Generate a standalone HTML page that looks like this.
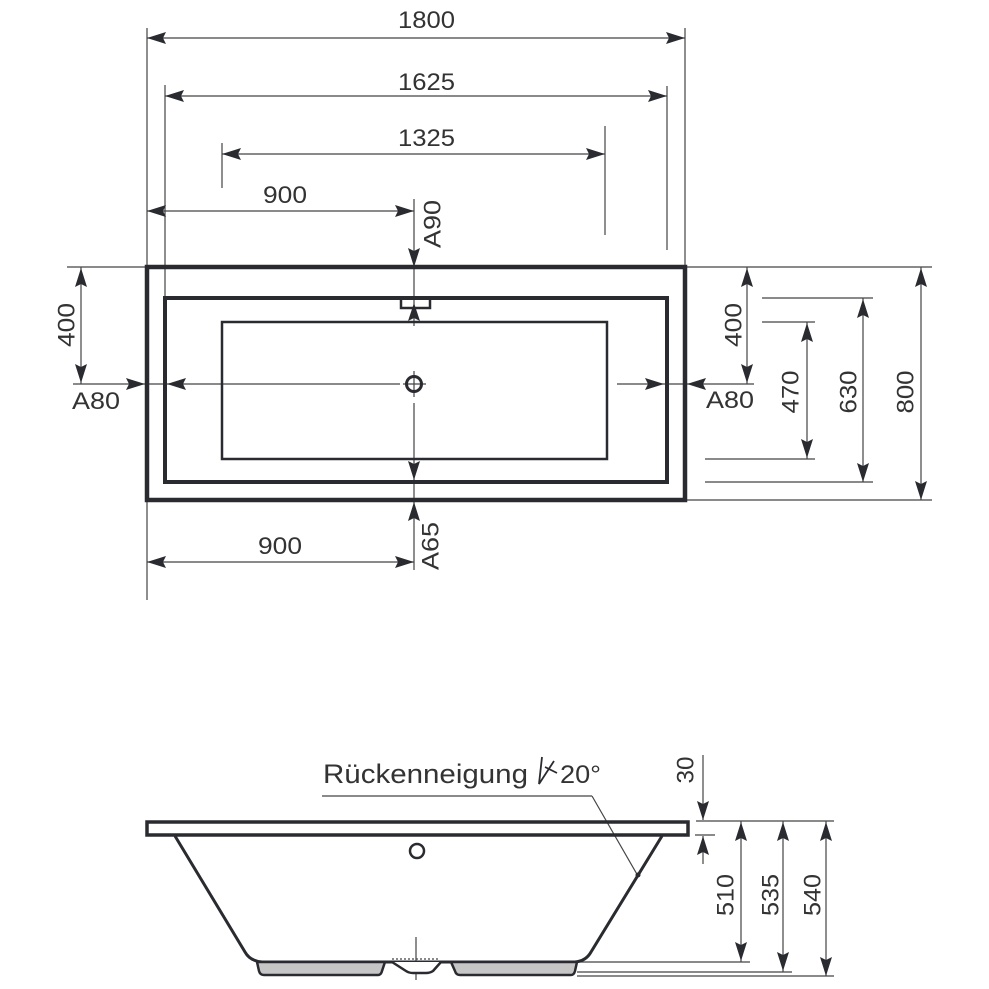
<!DOCTYPE html>
<html><head><meta charset="utf-8"><style>
html,body{margin:0;padding:0;background:#fff;}
svg{display:block;}
text{font-family:"Liberation Sans",sans-serif;fill:#333;}
</style></head><body>
<svg width="989" height="989" viewBox="0 0 989 989" xmlns="http://www.w3.org/2000/svg">
<g stroke="#444" stroke-width="1.2" fill="none">
<!-- top plan extension lines -->
<line x1="147" y1="28" x2="147" y2="600"/>
<line x1="685" y1="28" x2="685" y2="267"/>
<line x1="165" y1="85" x2="165" y2="298"/>
<line x1="667" y1="86" x2="667" y2="250"/>
<line x1="222" y1="143" x2="222" y2="188"/>
<line x1="605" y1="126" x2="605" y2="235"/>
<line x1="414" y1="199" x2="414" y2="326"/>
<!-- dim lines -->
<line x1="147" y1="38" x2="685" y2="38"/>
<line x1="165" y1="96" x2="667" y2="96"/>
<line x1="222" y1="154" x2="605" y2="154"/>
<line x1="147" y1="211" x2="414" y2="211"/>
<!-- center lines -->
<line x1="73" y1="384" x2="400" y2="384"/>
<line x1="403" y1="384" x2="426" y2="384"/>
<line x1="414" y1="371" x2="414" y2="397"/>
<line x1="414" y1="403" x2="414" y2="570"/>
<line x1="617" y1="384" x2="754" y2="384"/>
<!-- left 400 -->
<line x1="67" y1="267" x2="147" y2="267"/>
<line x1="81" y1="267" x2="81" y2="384"/>
<!-- bottom 900 -->
<line x1="147" y1="562" x2="414" y2="562"/>
<!-- right side ext -->
<line x1="685" y1="267" x2="932" y2="267"/>
<line x1="685" y1="500" x2="932" y2="500"/>
<line x1="762" y1="298" x2="873" y2="298"/>
<line x1="705" y1="482" x2="873" y2="482"/>
<line x1="762" y1="322" x2="815" y2="322"/>
<line x1="705" y1="459" x2="815" y2="459"/>
<line x1="747" y1="267" x2="747" y2="384"/>
<line x1="807" y1="322" x2="807" y2="459"/>
<line x1="863" y1="298" x2="863" y2="482"/>
<line x1="921" y1="267" x2="921" y2="500"/>
<!-- side view dims -->
<line x1="703" y1="755" x2="703" y2="820"/>
<line x1="703" y1="836" x2="703" y2="864"/>
<line x1="695" y1="835" x2="715" y2="835"/>
<line x1="696" y1="821" x2="834" y2="821"/>
<line x1="741" y1="821" x2="741" y2="962"/>
<line x1="783" y1="821" x2="783" y2="972"/>
<line x1="826" y1="821" x2="826" y2="976"/>
<line x1="577" y1="962" x2="750" y2="962"/>
<line x1="577" y1="972" x2="792" y2="972"/>
<line x1="577" y1="976" x2="834" y2="976"/>
<line x1="416" y1="937" x2="416" y2="980"/>
<line x1="392" y1="959" x2="440" y2="959" stroke-dasharray="2,2"/>
<!-- leader -->
<line x1="322" y1="796" x2="592" y2="796"/>
<line x1="592" y1="796" x2="638" y2="876"/>
</g>

<!-- plan rectangles -->
<g stroke="#2a2b30" fill="none">
<rect x="147" y="267" width="538" height="233" stroke-width="4.5"/>
<rect x="165" y="298" width="502" height="184" stroke-width="4"/>
<rect x="222" y="322" width="385" height="137" stroke-width="2.5"/>
<path d="M401,298 V308 H430 V298" stroke-width="2.5"/>
<circle cx="414" cy="384" r="7.5" stroke-width="3"/>
<!-- side view -->
<rect x="147" y="822" width="541" height="13" stroke-width="3.5"/>
<path d="M175,836 L245,952 Q250,961 262,962 L575,962 Q586,961 591,952 L662,836" stroke-width="3"/>
<path d="M257,962 L259,971 Q260,975 264,975 L378,975 Q381,975 382,971 L385,962 Z" fill="#c6c6c6" stroke-width="2.5"/>
<path d="M451,962 L455,971 Q456,975 460,975 L571,975 Q574,975 575,971 L577,962 Z" fill="#c6c6c6" stroke-width="2.5"/>
<path d="M392,962 L406,971 Q409,973 413,973 L426,973 Q430,973 433,971 L441,962" stroke-width="2.5" fill="#fff"/>
<circle cx="417" cy="851" r="7" stroke-width="2.5"/>
<!-- angle symbol -->
<path d="M542,757 L539,784 L554,761 M545,767 L557,773" stroke-width="1.8"/>
</g>
<circle cx="638" cy="875" r="2.5" fill="#2a2b30"/>

<!-- arrowheads -->
<g fill="#2a2b30">
<polygon points="147,38 166,32 163,38 166,44"/>
<polygon points="685,38 666,32 669,38 666,44"/>
<polygon points="165,96 184,90 181,96 184,102"/>
<polygon points="667,96 648,90 651,96 648,102"/>
<polygon points="222,154 241,148 238,154 241,160"/>
<polygon points="605,154 586,148 589,154 586,160"/>
<polygon points="147,211 166,205 163,211 166,217"/>
<polygon points="414,211 395,205 398,211 395,217"/>
<polygon points="414,267 408,248 414,251 420,248"/>
<polygon points="414,303 408,321 414,318 420,321"/>
<polygon points="145,384 126,378 129,384 126,390"/>
<polygon points="167,384 186,378 183,384 186,390"/>
<polygon points="81,268 75,287 81,284 87,287"/>
<polygon points="81,383 75,364 81,367 87,364"/>
<polygon points="414,480 408,461 414,464 420,461"/>
<polygon points="414,502 408,521 414,518 420,521"/>
<polygon points="147,562 166,556 163,562 166,568"/>
<polygon points="414,562 395,556 398,562 395,568"/>
<polygon points="664,384 645,378 648,384 645,390"/>
<polygon points="687,384 706,378 703,384 706,390"/>
<polygon points="747,268 741,287 747,284 753,287"/>
<polygon points="747,383 741,364 747,367 753,364"/>
<polygon points="807,323 801,342 807,339 813,342"/>
<polygon points="807,458 801,439 807,442 813,439"/>
<polygon points="863,299 857,318 863,315 869,318"/>
<polygon points="863,482 857,463 863,466 869,463"/>
<polygon points="921,268 915,287 921,284 927,287"/>
<polygon points="921,500 915,481 921,484 927,481"/>
<polygon points="703,820 697,801 703,804 709,801"/>
<polygon points="703,836 697,855 703,852 709,855"/>
<polygon points="741,822 735,841 741,838 747,841"/>
<polygon points="741,961 735,942 741,945 747,942"/>
<polygon points="783,822 777,841 783,838 789,841"/>
<polygon points="783,971 777,952 783,955 789,952"/>
<polygon points="826,822 820,841 826,838 832,841"/>
<polygon points="826,976 820,957 826,960 832,957"/>
</g>

<!-- texts -->
<g font-size="24">
<text x="398" y="28" textLength="57" lengthAdjust="spacingAndGlyphs">1800</text>
<text x="398" y="90" textLength="57" lengthAdjust="spacingAndGlyphs">1625</text>
<text x="398" y="146" textLength="57" lengthAdjust="spacingAndGlyphs">1325</text>
<text x="263" y="203" textLength="44" lengthAdjust="spacingAndGlyphs">900</text>
<text x="258" y="554" textLength="44" lengthAdjust="spacingAndGlyphs">900</text>
<text x="72" y="409" textLength="48" lengthAdjust="spacingAndGlyphs">A80</text>
<text x="706" y="408" textLength="48" lengthAdjust="spacingAndGlyphs">A80</text>
<g text-anchor="middle">
<text transform="translate(432,224) rotate(-90)" x="0" y="8.7" textLength="48" lengthAdjust="spacingAndGlyphs">A90</text>
<text transform="translate(430,546) rotate(-90)" x="0" y="8.7" textLength="48" lengthAdjust="spacingAndGlyphs">A65</text>
<text transform="translate(66,325) rotate(-90)" x="0" y="8.7" textLength="44" lengthAdjust="spacingAndGlyphs">400</text>
<text transform="translate(733,325) rotate(-90)" x="0" y="8.7" textLength="44" lengthAdjust="spacingAndGlyphs">400</text>
<text transform="translate(790,392) rotate(-90)" x="0" y="8.7" textLength="43" lengthAdjust="spacingAndGlyphs">470</text>
<text transform="translate(848,392) rotate(-90)" x="0" y="8.7" textLength="43" lengthAdjust="spacingAndGlyphs">630</text>
<text transform="translate(905,392) rotate(-90)" x="0" y="8.7" textLength="43" lengthAdjust="spacingAndGlyphs">800</text>
<text transform="translate(685,770) rotate(-90)" x="0" y="8.7" textLength="27" lengthAdjust="spacingAndGlyphs">30</text>
<text transform="translate(725,895) rotate(-90)" x="0" y="8.7" textLength="42" lengthAdjust="spacingAndGlyphs">510</text>
<text transform="translate(770,895) rotate(-90)" x="0" y="8.7" textLength="42" lengthAdjust="spacingAndGlyphs">535</text>
<text transform="translate(812,895) rotate(-90)" x="0" y="8.7" textLength="42" lengthAdjust="spacingAndGlyphs">540</text>
</g>
</g>
<text x="323" y="783" font-size="27" textLength="205" lengthAdjust="spacingAndGlyphs">Rückenneigung</text>
<text x="560" y="783" font-size="25" textLength="41" lengthAdjust="spacingAndGlyphs">20°</text>
</svg>
</body></html>
